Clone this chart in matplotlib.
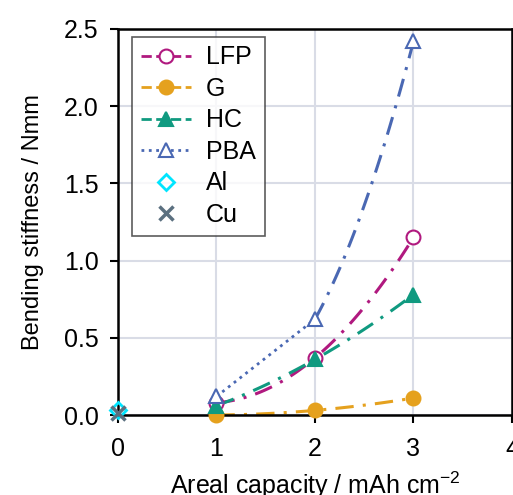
import numpy as np
import matplotlib.pyplot as plt
from matplotlib.lines import Line2D

plt.rcParams['font.family'] = ['Liberation Sans', 'DejaVu Sans']

# data
cap = [1, 2, 3]
lfp = [0.08, 0.37, 1.15]
g = [0.0, 0.03, 0.11]
hc = [0.06, 0.36, 0.78]
pba = [0.12, 0.62, 2.42]
al_x, al_y = [0], [0.03]
cu_x, cu_y = [0], [0.01]

names = ['LFP', 'G', 'HC', 'PBA']
colors = ['#b0197f', '#e5a11e', '#109a80', '#4a68b3']
markers = ['o', 'o', '^', '^']
filled = [False, True, True, False]
series = [lfp, g, hc, pba]
legend_ls = ['--', '--', '--', ':']

fig = plt.figure(figsize=(5.13, 4.95), dpi=100)
ax = fig.add_axes([0.230, 0.1616, 0.768, 0.780])

handles = []
for name, col, mk, fl, ys, ls in zip(names, colors, markers, filled, series, legend_ls):
    # quadratic fit as smooth trend line
    coef = np.polyfit(cap, ys, 2)
    xs = np.linspace(cap[0], cap[-1], 100)
    if name == 'PBA':
        ax.plot(cap[:2], ys[:2], ls=':', color=col, lw=2)
        xs = np.linspace(cap[1], cap[-1], 100)
    ax.plot(xs, np.polyval(coef, xs), ls=(0, (6, 3, 1, 3)), color=col, lw=2.2)
    fc = col if fl else 'white'
    ax.plot(cap, ys, ls='none', marker=mk, ms=10, mfc=fc, mec=col, mew=1.5,
            zorder=5, clip_on=False)
    handles.append(Line2D([], [], color=col, ls=ls, lw=2, marker=mk, ms=10,
                          mfc=fc, mec=col, mew=1.5, label=name))

ax.plot(al_x, al_y, ls='none', marker='D', ms=8, mfc='none', mec='#00e5ff', mew=2,
        zorder=6, clip_on=False)
ax.plot(cu_x, cu_y, ls='none', marker='x', ms=10, color='#5b7080', mew=2.5,
        zorder=7, clip_on=False)
handles.append(Line2D([], [], ls='none', marker='D', ms=8, mfc='none', mec='#00e5ff', mew=2, label='Al'))
handles.append(Line2D([], [], ls='none', marker='x', ms=10, color='#5b7080', mew=2.5, label='Cu'))

ax.set_xlim(0, 4)
ax.set_ylim(0, 2.5)
ax.set_xticks([0, 1, 2, 3, 4])
ax.set_yticks([0, 0.5, 1.0, 1.5, 2.0, 2.5])
ax.set_yticklabels(['0.0', '0.5', '1.0', '1.5', '2.0', '2.5'])
ax.grid(True, color='#d9dce6', lw=1.5)
ax.set_axisbelow(True)
for s in ax.spines.values():
    s.set_linewidth(1.8)
ax.tick_params(labelsize=18, width=1.5, length=6, direction='out')
ax.tick_params(axis='x', pad=10)
ax.tick_params(axis='y', pad=8)
ax.set_xlabel('Areal capacity / mAh cm$^{\\mathregular{-2}}$', fontsize=18, labelpad=6)
ax.set_ylabel('Bending stiffness / Nmm', fontsize=17, labelpad=14)

leg = ax.legend(handles=handles, loc='upper left', bbox_to_anchor=(0.036, 0.98),
                borderaxespad=0, fontsize=18, frameon=True, fancybox=False,
                edgecolor='#333333', handlelength=2.0, labelspacing=0.3,
                borderpad=0.35, handletextpad=0.6)
leg.get_frame().set_linewidth(1.2)

fig.savefig('out.png', dpi=100)
